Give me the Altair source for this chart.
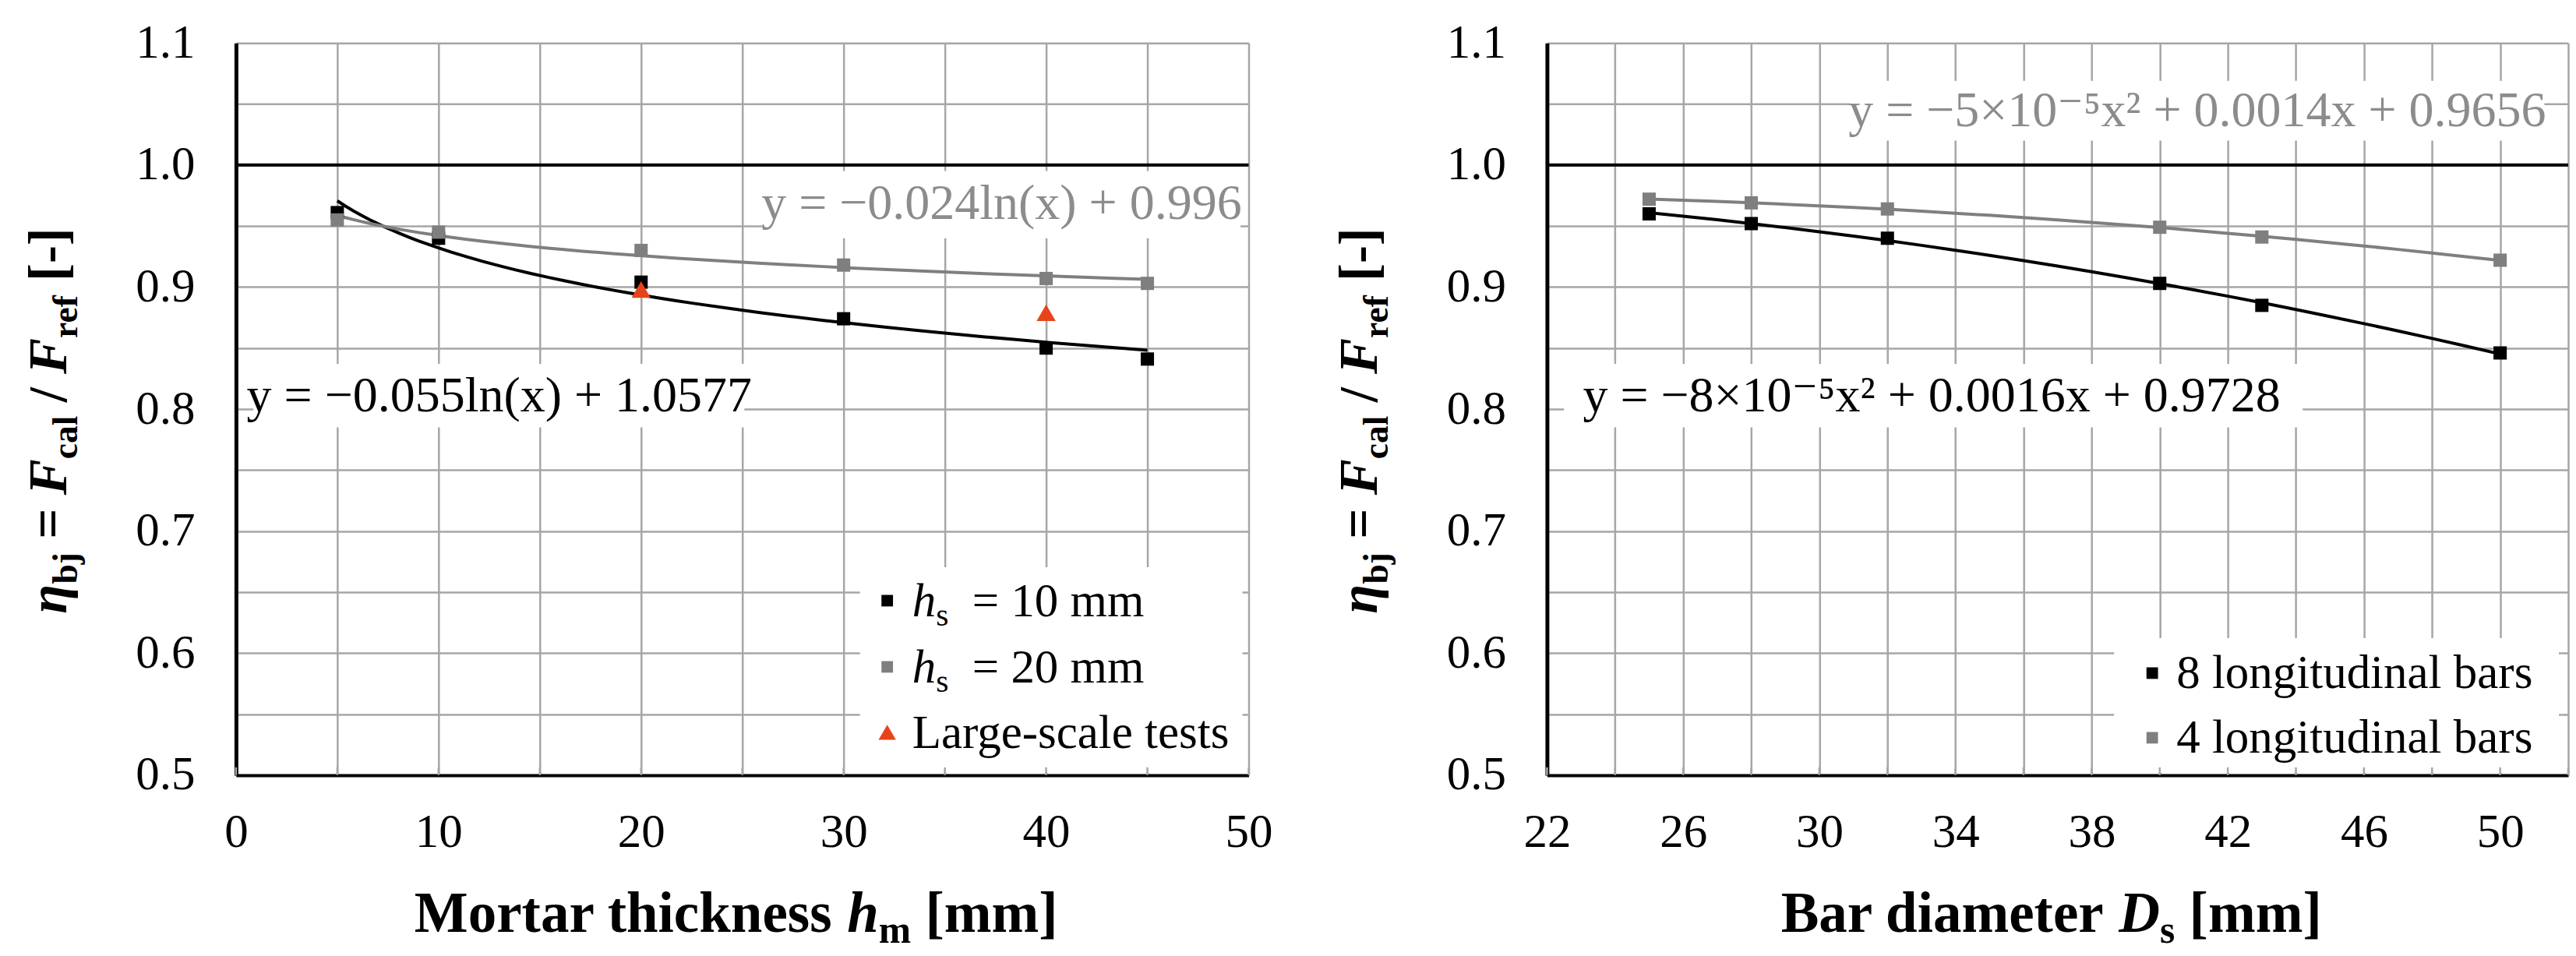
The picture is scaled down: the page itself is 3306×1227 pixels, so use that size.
import altair as alt
import pandas as pd

# ---- values ----
# left panel: mortar thickness h_m [mm]
HM = [5, 10, 20, 30, 40, 45]
ETA_HS10 = [0.961, 0.940, 0.904, 0.874, 0.850, 0.841]
ETA_HS20 = [0.955, 0.945, 0.930, 0.918, 0.907, 0.903]
LARGE_HM = [20, 40]
LARGE_ETA = [0.898, 0.879]

# right panel: bar diameter D_s [mm]
DS = [25, 28, 32, 40, 43, 50]
ETA_8BARS = [0.960, 0.952, 0.940, 0.903, 0.885, 0.846]
ETA_4BARS = [0.972, 0.969, 0.964, 0.949, 0.941, 0.922]

# axes / grid
Y_TICKS = [0.5, 0.55, 0.6, 0.65, 0.7, 0.75, 0.8, 0.85, 0.9, 0.95, 1.0, 1.05, 1.1]
HM_TICKS = [0, 5, 10, 15, 20, 25, 30, 35, 40, 45, 50]
DS_TICKS = [22, 24, 26, 28, 30, 32, 34, 36, 38, 40, 42, 44, 46, 48, 50, 52]
REF_LINE = [1.0]

# trendline equations as printed on the chart
EQ_HS10 = "y = −0.055ln(x) + 1.0577"
EQ_HS20 = "y = −0.024ln(x) + 0.996"
EQ_8BARS = "y = −8×10⁻⁵x² + 0.0016x + 0.9728"
EQ_4BARS = "y = −5×10⁻⁵x² + 0.0014x + 0.9656"

# ---- styling ----
SERIF = "Liberation Serif, Tinos, Times New Roman, DejaVu Serif, serif"
BLACK = "#000000"
GREY = "#7f7f7f"
EQ_GREY = "#8c8c8c"
RED = "#e8441c"
GRID = "#a6a6a6"
H = 940
W_LEFT, W_RIGHT = 1300, 1311
TICK_FS, LEGEND_FS, EQ_FS, TITLE_FS, YTITLE_FS = 61, 61, 64, 73, 69

Y_LABELS = "abs(datum.value * 10 - round(datum.value * 10)) < 0.001 ? format(datum.value, '.1f') : ''"

# Times / Liberation Serif advance widths (per 1000 em), only the glyphs used
ADV = {
    "r": {" ": 250, "=": 564, "s": 389, "0": 500, "1": 500, "2": 500, "m": 778},
    "i": {"h": 500},
    "b": {" ": 250, "=": 570, "/": 278, "[": 333, "-": 333, "]": 333, "b": 556, "j": 333,
          "c": 444, "a": 500, "l": 278, "r": 444, "e": 444, "f": 333, "M": 944, "o": 500,
          "t": 333, "h": 556, "i": 278, "k": 556, "n": 556, "s": 389, "m": 833, "B": 667,
          "d": 556},
    "bi": {"h": 556, "D": 722, "F": 667, "η": 556},
}


def advance(text, style, size):
    return sum(ADV[style].get(ch, 500) for ch in text) * size / 1000.0


def one_row():
    return alt.Data(values=[{}])


def text_at(text, x, y, size, style="r", color=BLACK, angle=0, baseline="alphabetic"):
    return alt.Chart(one_row()).mark_text(
        text=text, font=SERIF, fontSize=size,
        fontWeight="bold" if "b" in style else "normal",
        fontStyle="italic" if "i" in style else "normal",
        color=color, angle=angle, align="left", baseline=baseline,
    ).encode(x=alt.value(x), y=alt.value(y))


def rich(runs, x0, y0, size, vertical=False, center=True):
    # lay out runs of differently styled text (italics, subscripts) one after another
    widths = [advance(t, st, size * sc) for t, st, sc, _ in runs]
    off = -sum(widths) / 2 if center else 0.0
    out = []
    for (t, st, sc, shift), w in zip(runs, widths):
        body = t.strip()
        if body:
            pos = off + advance(t[: len(t) - len(t.lstrip())], st, size * sc)
            if vertical:
                out.append(text_at(body, x0 + shift * size, y0 - pos, size * sc, st, angle=270))
            else:
                out.append(text_at(body, x0 + pos, y0 + shift * size, size * sc, st))
        off += w
    return out


def legend_symbol(shape, color, x, y, size):
    return alt.Chart(one_row()).mark_point(
        shape=shape, filled=True, size=size, color=color, opacity=1
    ).encode(x=alt.value(x), y=alt.value(y))


def white_box(x, x2, y, y2):
    return alt.Chart(one_row()).mark_rect(color="white").encode(
        x=alt.value(x), x2=alt.value(x2), y=alt.value(y), y2=alt.value(y2)
    )


Y_TITLE = [("η", "bi", 1, 0), ("bj", "b", 0.66, 0.2), (" = ", "b", 1, 0),
           ("F", "bi", 1, 0), ("cal", "b", 0.66, 0.2), (" / ", "b", 1, 0),
           ("F", "bi", 1, 0), ("ref", "b", 0.66, 0.2), (" [-]", "b", 1, 0)]


def panel(series_df, method, x_domain, x_ticks, x_label_expr, width,
          eq_df, legend_layers, x_title_runs, extra_marks):
    x = alt.X("x:Q", scale=alt.Scale(domain=x_domain, nice=False, zero=False),
              axis=alt.Axis(values=x_ticks, labelExpr=x_label_expr, title=None))
    y = alt.Y("eta:Q", scale=alt.Scale(domain=[0.5, 1.1], nice=False, zero=False),
              axis=alt.Axis(values=Y_TICKS, labelExpr=Y_LABELS, title=None))
    color = alt.Color("color:N", scale=None)

    eq_boxes = alt.Chart(eq_df).mark_rect(color="white").encode(
        x=x, x2="x_hi:Q", y=y, y2="eta_hi:Q"
    ).transform_calculate(x="datum.x_lo", eta="datum.eta_lo")
    ref = alt.Chart(pd.DataFrame({"eta": REF_LINE})).mark_rule(
        color=BLACK, strokeWidth=4).encode(y=y)
    base = alt.Chart(series_df)
    fits = base.transform_regression(
        "x", "eta", groupby=["series", "color"], method=method, order=2
    ).mark_line(strokeWidth=4).encode(x=x, y=y, color=color)
    points = base.mark_point(shape="square", filled=True, size=290, opacity=1).encode(
        x=x, y=y, color=color)
    eq_text = alt.Chart(eq_df).mark_text(
        font=SERIF, fontSize=EQ_FS, align="center", baseline="middle"
    ).encode(x=x, y=y, text="label:N", color=color)
    inner_ticks = alt.Chart(pd.DataFrame({"x": x_ticks})).mark_rule(
        color=GRID, strokeWidth=2.5).encode(x=x, y=alt.value(H - 10), y2=alt.value(H))

    layers = [eq_boxes, ref, fits, points] + extra_marks + [eq_text]
    layers += legend_layers[:1] + [inner_ticks] + legend_layers[1:]
    layers += rich(x_title_runs, width / 2 - 8, H + 201, TITLE_FS)
    layers += rich(Y_TITLE, -218, 485, YTITLE_FS, vertical=True)
    return alt.layer(*layers).properties(width=width, height=H)


# ---- left panel ----
left_df = pd.DataFrame({
    "x": HM * 2,
    "eta": ETA_HS10 + ETA_HS20,
    "series": ["hs10"] * len(HM) + ["hs20"] * len(HM),
    "color": [BLACK] * len(HM) + [GREY] * len(HM),
})
left_eq = pd.DataFrame({
    "label": [EQ_HS10, EQ_HS20], "x": [13.0, 37.8], "eta": [0.810, 0.968],
    "x_lo": [0.85, 26.0], "x_hi": [25.1, 49.6], "eta_lo": [0.785, 0.940], "eta_hi": [0.837, 0.995],
    "color": [BLACK, EQ_GREY],
})
large = alt.Chart(pd.DataFrame({"x": LARGE_HM, "eta": LARGE_ETA})).mark_point(
    shape="triangle-up", filled=True, size=600, color=RED, opacity=1
).encode(x="x:Q", y="eta:Q")

left_legend = [white_box(801, 1292, 673, 937)]
for row_y, shape, col in [(716, "square", BLACK), (801, "square", GREY), (885, "triangle-up", RED)]:
    left_legend.append(legend_symbol(shape, col, 836, row_y, 500 if shape == "triangle-up" else 220))
left_legend += rich([("h", "i", 1, 0), ("s", "r", 0.68, 0.2), ("  = 10 mm", "r", 1, 0)],
                    868, 716 + 20, LEGEND_FS, center=False)
left_legend += rich([("h", "i", 1, 0), ("s", "r", 0.68, 0.2), ("  = 20 mm", "r", 1, 0)],
                    868, 801 + 20, LEGEND_FS, center=False)
left_legend.append(text_at("Large-scale tests", 868, 885 + 20, LEGEND_FS))

# invisible corner that pins the chart origin on the page
anchor = white_box(-295, -294, -47, -46).mark_rect(opacity=0)

left = panel(
    left_df, "log", [0, 50], HM_TICKS,
    "datum.value % 10 == 0 ? datum.label : ''", W_LEFT, left_eq, left_legend,
    [("Mortar thickness ", "b", 1, 0), ("h", "bi", 1, 0), ("m", "b", 0.68, 0.2), (" [mm]", "b", 1, 0)],
    [large, anchor],
)

# ---- right panel ----
right_df = pd.DataFrame({
    "x": DS * 2,
    "eta": ETA_4BARS + ETA_8BARS,
    "series": ["bars4"] * len(DS) + ["bars8"] * len(DS),
    "color": [GREY] * len(DS) + [BLACK] * len(DS),
})
right_eq = pd.DataFrame({
    "label": [EQ_8BARS, EQ_4BARS], "x": [33.3, 41.1], "eta": [0.810, 1.044],
    "x_lo": [22.5, 30.9], "x_hi": [44.2, 51.3], "eta_lo": [0.785, 1.020], "eta_hi": [0.837, 1.069],
    "color": [BLACK, EQ_GREY],
})
right_legend = [white_box(728, 1299, 764, 937)]
for row_y, col, text in [(809, BLACK, "8 longitudinal bars"), (892, GREY, "4 longitudinal bars")]:
    right_legend.append(legend_symbol("square", col, 777, row_y, 220))
    right_legend.append(text_at(text, 808, row_y + 19, LEGEND_FS))

right = panel(
    right_df, "poly", [22, 52], DS_TICKS,
    "(datum.value - 22) % 4 == 0 ? datum.label : ''", W_RIGHT, right_eq, right_legend,
    [("Bar diameter ", "b", 1, 0), ("D", "bi", 1, 0), ("s", "b", 0.68, 0.2), (" [mm]", "b", 1, 0)],
    [],
)

chart = alt.hconcat(left, right, spacing=383, bounds="flush").properties(
    padding=0
).configure_view(
    strokeOpacity=0
).configure_axis(
    labelFont=SERIF, labelFontSize=TICK_FS, labelColor=BLACK, labelFlush=False,
    labelOverlap=False, ticks=False, gridColor=GRID, gridWidth=2.5, gridOpacity=1,
    domainColor=BLACK,
).configure_axisX(
    domainWidth=4, labelPadding=44,
).configure_axisY(
    domainWidth=5, labelPadding=53,
)

chart.save("out.html", embed_options={"renderer": "svg", "actions": False})
